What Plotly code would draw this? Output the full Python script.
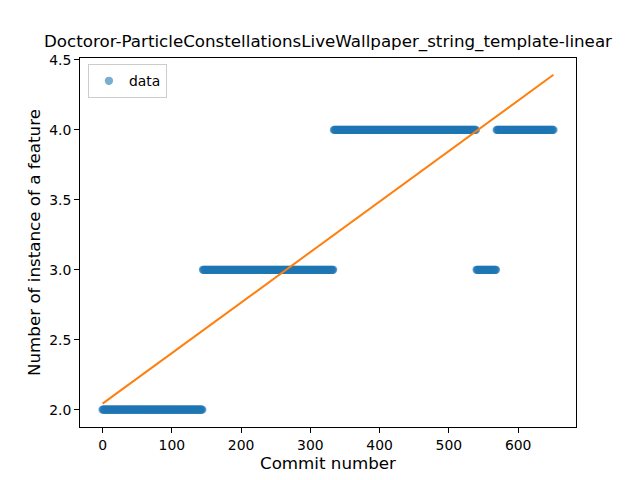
import numpy as np
import plotly.graph_objects as go

# runs of commits that share the same feature count (first commit, last commit, value)
run_start = [0, 145, 334, 540, 569]
run_end = [144, 333, 539, 568, 651]
run_value = [2, 3, 4, 3, 4]

# linear fit as drawn in the picture
fit_x = [0, 651]
fit_y = [2.043, 4.394]

title = "Doctoror-ParticleConstellationsLiveWallpaper_string_template-linear"


def build_points():
    xs, ys = [], []
    for a, b, v in zip(run_start, run_end, run_value):
        for c in range(a, b + 1):
            xs.append(c)
            ys.append(v)
    return xs, ys


commit, count = build_points()

fig = go.Figure()
fig.add_trace(go.Scatter(
    x=commit, y=count, mode="markers", name="data",
    marker=dict(color="#1f77b4", size=8.3, opacity=0.6, line=dict(width=0)),
))
fig.add_trace(go.Scatter(
    x=fit_x, y=fit_y, mode="lines", showlegend=False,
    line=dict(color="#ff7f0e", width=2),
))

axis_style = dict(
    showgrid=False, zeroline=False, showline=True, linecolor="black",
    linewidth=1, mirror=True, ticks="outside", ticklen=5, tickwidth=1,
    tickcolor="black", tickfont=dict(size=13.9, color="black"),
    automargin=False,
)

# page body adds an 8px offset, so margins are trimmed to compensate
fig.update_layout(
    width=640, height=480,
    margin=dict(l=72, r=72, t=50, b=61),
    paper_bgcolor="white", plot_bgcolor="white",
    font=dict(family="DejaVu Sans", color="black"),
    title=dict(text=title, x=0.5, xref="paper", xanchor="center",
               y=1, yref="paper", yanchor="bottom", pad=dict(b=11),
               automargin=False, font=dict(size=16.7)),
    xaxis=dict(range=[-32.55, 683.55], tickvals=[0, 100, 200, 300, 400, 500, 600],
               title=dict(text="Commit number", font=dict(size=16.7), standoff=5),
               **axis_style),
    yaxis=dict(range=[1.876, 4.514], tickvals=[2.0, 2.5, 3.0, 3.5, 4.0, 4.5],
               tickformat=".1f",
               title=dict(text="Number of instance of a feature", font=dict(size=16.7), standoff=4),
               **axis_style),
    legend=dict(x=0.016, y=0.983, xanchor="left", yanchor="top",
                bordercolor="#cccccc", borderwidth=1, bgcolor="white",
                font=dict(size=13.9), itemsizing="trace", itemwidth=30,
                tracegroupgap=0),
    showlegend=True,
)

fig.write_html("out.html")
